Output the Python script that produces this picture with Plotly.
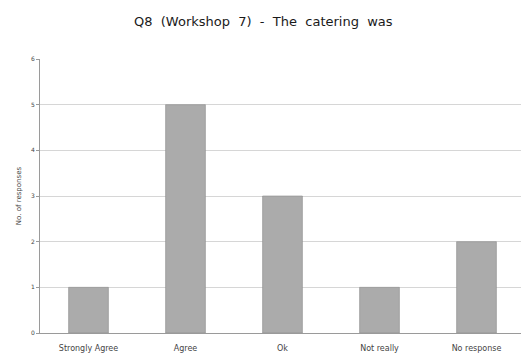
import plotly.graph_objs as go

# Antworten zu Q8 (Workshop 7)
categories = ['Strongly Agree', 'Agree', 'Ok', 'Not really', 'No response']
responses = [1, 5, 3, 1, 2]
y_ticks = [0, 1, 2, 3, 4, 5, 6]

fig = go.Figure()

fig.add_trace(go.Bar(x=categories, y=responses,
                     marker=dict(color='#ababab', line=dict(color='#8c8c8c', width=0.6))))

# Seite hat 8px Rand, daher etwas kleiner
fig.update_layout(title=dict(text='Q8  (Workshop  7)  -  The  catering  was', x=0.49, y=0.962,
                             xanchor='center', yanchor='middle',
                             font=dict(family='DejaVu Sans', size=13, color='#1a1a1a')),
                  width=521, height=348,
                  margin=dict(l=32, r=4, t=51, b=23),
                  paper_bgcolor='white', plot_bgcolor='white',
                  bargap=0.59, showlegend=False)

# Achsen und Gitterlinien
fig.update_xaxes(showline=True, linecolor='#9a9a9a', linewidth=1, ticks='outside', ticklen=7,
                 tickcolor='white',
                 tickfont=dict(family='DejaVu Sans', size=8, color='#444444'))
fig.update_yaxes(range=[0, 6], tickvals=y_ticks, showgrid=True, gridcolor='#d6d6d6', gridwidth=1,
                 showline=True, linecolor='#9a9a9a', linewidth=1, ticks='outside', ticklen=3,
                 tickcolor='#9a9a9a', zeroline=False,
                 tickfont=dict(family='DejaVu Sans', size=6, color='#444444'),
                 title=dict(text='No. of responses', font=dict(family='DejaVu Sans', size=7, color='#444444'),
                            standoff=8))

fig.write_html("out.html")
